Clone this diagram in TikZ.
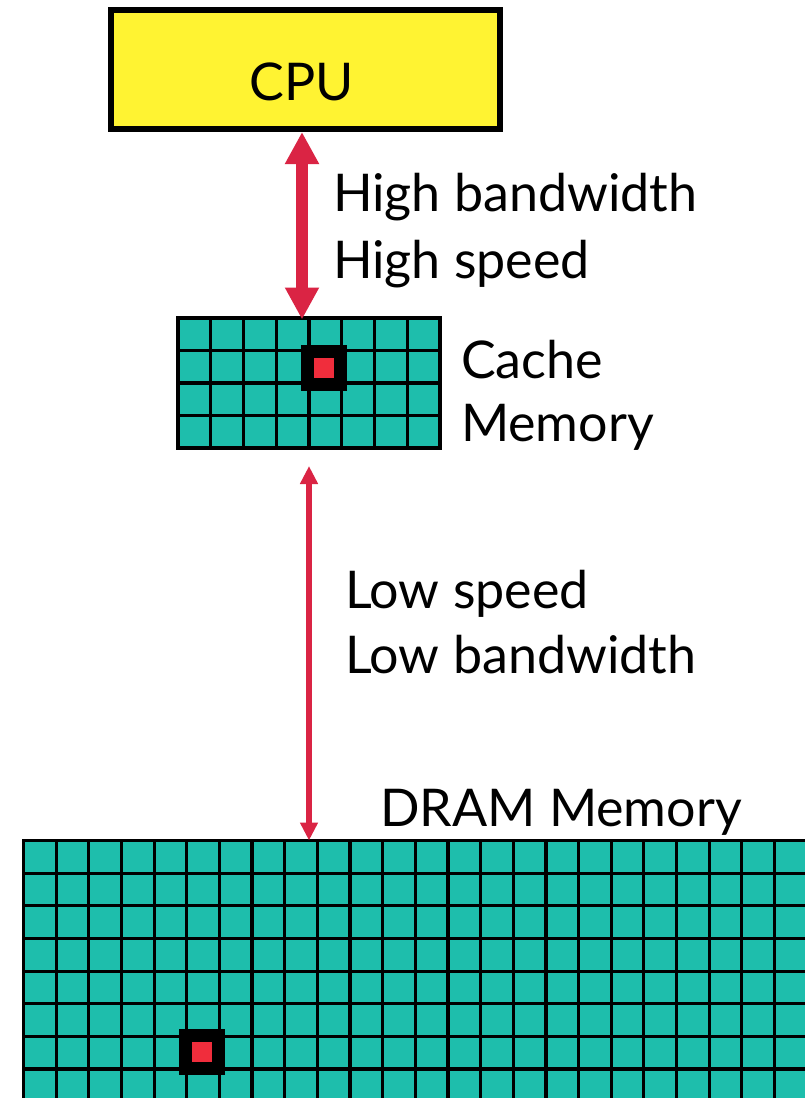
\documentclass[tikz,border=0pt]{standalone}
\usepackage{fontspec}
\setmainfont{Lato}
\usetikzlibrary{arrows.meta}
\definecolor{cellteal}{RGB}{30,190,172}
\definecolor{cpuyellow}{RGB}{255,243,50}
\definecolor{linkred}{RGB}{218,36,68}
\definecolor{hotred}{RGB}{240,45,60}
\tikzset{
  lbl/.style={inner sep=0pt, outer sep=0pt, anchor=base west, font=\fontsize{52}{62}\selectfont},
  gridline/.style={line width=3.2pt, draw=black},
  bigarrow/.style={draw=linkred, line width=12pt, {Triangle[width=32pt,length=32pt]}-{Triangle[width=32pt,length=32pt]}},
  smallarrow/.style={draw=linkred, line width=6pt, {Triangle[width=17pt,length=18pt]}-{Triangle[width=17pt,length=18pt]}},
  hotcell/.style={fill=black, inner sep=0pt, outer sep=0pt, minimum size=46pt},
  hotcore/.style={fill=hotred, inner sep=0pt, outer sep=0pt, minimum size=20pt},
}
\begin{document}
\begin{tikzpicture}[x=1pt,y=-1pt]
\useasboundingbox (0,0) rectangle (805,1098);
\clip (0,0) rectangle (805,1098);
\fill[white] (0,0) rectangle (805,1098);

% CPU
\node[draw=black, line width=6pt, fill=cpuyellow, minimum width=389pt, minimum height=119pt, inner sep=0pt, outer sep=0pt] (cpu) at (305.5,69.5) {};
\node[lbl, anchor=base] (cputext) at (302,100) {CPU};

% Cache
\node[fill=cellteal, minimum width=262pt, minimum height=130pt, inner sep=0pt, outer sep=1.5pt, anchor=north west] (cache) at (178,318) {};
\foreach \i in {0,...,8} \draw[gridline, line cap=rect] (178+32.75*\i,318) -- (178+32.75*\i,448);
\foreach \j in {0,...,4} \draw[gridline, line cap=rect] (178,318+32.5*\j) -- (440,318+32.5*\j);
\node[hotcell] (cachehot) at (324,368) {};
\node[hotcore] (cachehotcore) at (cachehot.center) {};
\node[lbl] (cachel1) at (461,378) {Cache};
\node[lbl] (cachel2) at (461,441) {Memory};

% DRAM
\node[fill=cellteal, minimum width=800pt, minimum height=300pt, inner sep=0pt, outer sep=1.5pt, anchor=north west] (dram) at (23.5,840.5) {};
\foreach \i in {0,...,25} \draw[gridline, line cap=rect] (23.5+32.65*\i,840.5) -- (23.5+32.65*\i,1140);
\foreach \j in {0,...,9} \draw[gridline, line cap=rect] (23.5,840.5+32.65*\j) -- (840,840.5+32.65*\j);
\node[hotcell] (dramhot) at (202,1052) {};
\node[hotcore] (dramhotcore) at (dramhot.center) {};
\node[lbl] (draml) at (380,826) {DRAM Memory};

% links
\coordinate (axa) at (302,0);
\coordinate (axb) at (309,0);
\draw[bigarrow, shorten <=3pt, shorten >=-1.5pt] (cpu.south -| axa) -- (cache.north -| axa);
\node[lbl] (hb1) at (333,211) {High bandwidth};
\node[lbl] (hb2) at (333,278) {High speed};

\draw[smallarrow, shorten <=15pt, shorten >=0pt] (cache.south -| axb) -- (dram.north -| axb);
\node[lbl] (ls1) at (345,608) {Low speed};
\node[lbl] (ls2) at (345,673) {Low bandwidth};
\end{tikzpicture}
\end{document}
